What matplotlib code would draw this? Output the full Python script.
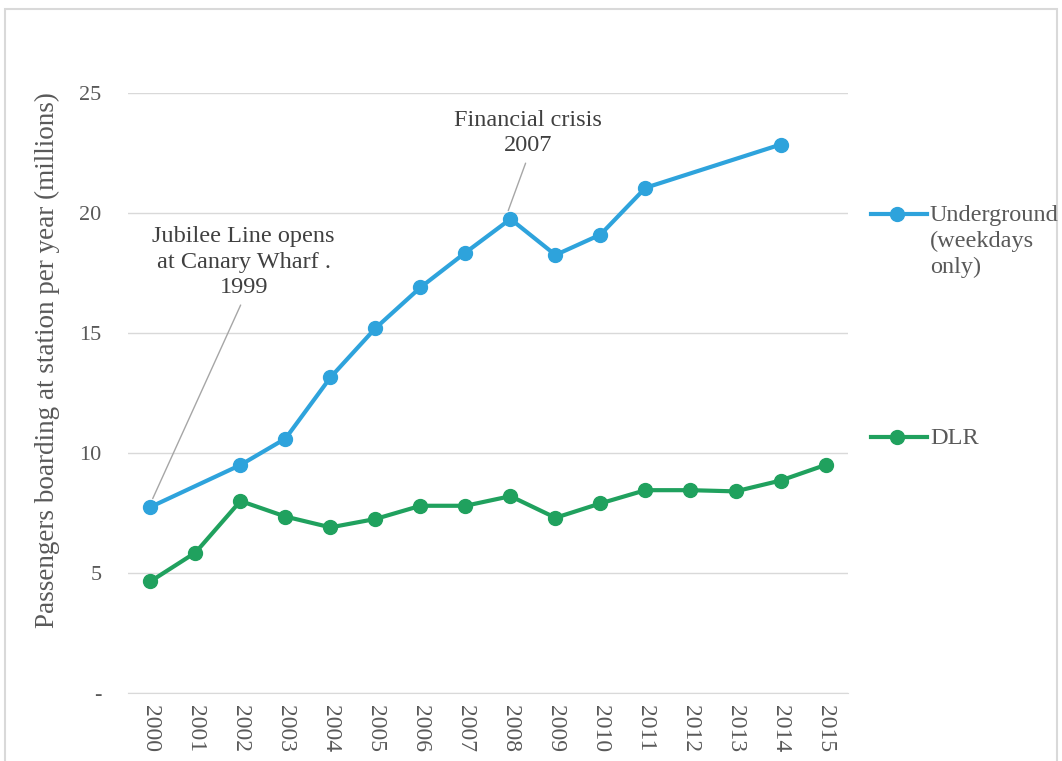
import numpy as np
import matplotlib.pyplot as plt
from matplotlib.lines import Line2D
from matplotlib.patches import Rectangle

plt.rcParams['font.family'] = ['Liberation Serif', 'DejaVu Serif']

years = [str(y) for y in range(2000, 2016)]
# passengers boarding per year (millions); None = no data that year
underground = [7.75, None, 9.5, 10.6, 13.15, 15.2, 16.9, 18.35, 19.75,
               18.25, 19.1, 21.05, None, None, 22.85, None]
dlr = [4.65, 5.85, 8.0, 7.35, 6.9, 7.25, 7.8, 7.8, 8.2,
       7.3, 7.9, 8.45, 8.45, 8.4, 8.85, 9.5]
y_ticks = [0, 5, 10, 15, 20, 25]
y_tick_labels = ['-', '5', '10', '15', '20', '25']

blue = '#2ea3dc'
green = '#20a15e'
grey_text = '#595959'

fig = plt.figure(figsize=(10.62, 7.61), dpi=100)
ax = fig.add_axes([0.1205, 0.0894, 0.678, 0.7884])

# Excel-style: connect the line across missing years
x_idx = np.arange(len(years))
ug_x = [i for i, v in zip(x_idx, underground) if v is not None]
ug_y = [v for v in underground if v is not None]

ax.plot(ug_x, ug_y, color=blue, lw=3, marker='o', ms=10, zorder=3)
ax.plot(x_idx, dlr, color=green, lw=3, marker='o', ms=10, zorder=3)

ax.set_xlim(-0.5, len(years) - 0.5)
ax.set_ylim(0, 25)
ax.set_yticks(y_ticks)
ax.set_yticklabels(y_tick_labels, fontsize=16, color=grey_text)
ax.set_xticks(x_idx)
ax.set_xticklabels(years, rotation=270, fontsize=17, color=grey_text)
ax.tick_params(length=0)
ax.tick_params(axis='y', pad=19)
ax.tick_params(axis='x', pad=9)
ax.grid(axis='y', color='#d9d9d9', lw=1)
ax.set_axisbelow(True)
for s in ['top', 'right', 'left']:
    ax.spines[s].set_visible(False)
ax.spines['bottom'].set_color('#d9d9d9')

ax.set_ylabel('Passengers boarding at station per year (millions)',
              fontsize=19.5, color=grey_text)
ax.yaxis.set_label_coords(-0.094, 0.555)

# annotations
ax.annotate('Jubilee Line opens\nat Canary Wharf .\n1999',
            xy=(0.05, 8.1), xytext=(2.07, 17.95),
            ha='center', va='center', fontsize=17.5, color='#404040',
            linespacing=1.3,
            arrowprops=dict(arrowstyle='-', color='#a6a6a6', lw=1,
                            relpos=(0.5, 0.0), shrinkA=3, shrinkB=0))
ax.annotate('Financial crisis\n2007',
            xy=(7.95, 20.1), xytext=(8.39, 23.33),
            ha='center', va='center', fontsize=17.5, color='#404040',
            linespacing=1.3,
            arrowprops=dict(arrowstyle='-', color='#a6a6a6', lw=1,
                            relpos=(0.5, 0.0), shrinkA=3, shrinkB=0))

# legend drawn by hand to match the spacing
def legend_entry(y_px, color, label):
    yf = 1 - y_px / 761
    fig.add_artist(Line2D([871 / 1062, 927 / 1062], [yf, yf], color=color, lw=3))
    fig.add_artist(Line2D([897 / 1062], [yf], color=color, marker='o', ms=10))
    fig.text(930 / 1062, yf + 0.012, label, fontsize=17.5, color=grey_text,
             va='top', ha='left', linespacing=1.3)

legend_entry(214, blue, 'Underground\n(weekdays\nonly)')
legend_entry(437, green, 'DLR')

fig.add_artist(Rectangle((0.005, -0.01), 0.99, 0.998, transform=fig.transFigure,
                         fill=False, edgecolor='#d9d9d9', lw=1.5))

fig.savefig('out.png', dpi=100)
